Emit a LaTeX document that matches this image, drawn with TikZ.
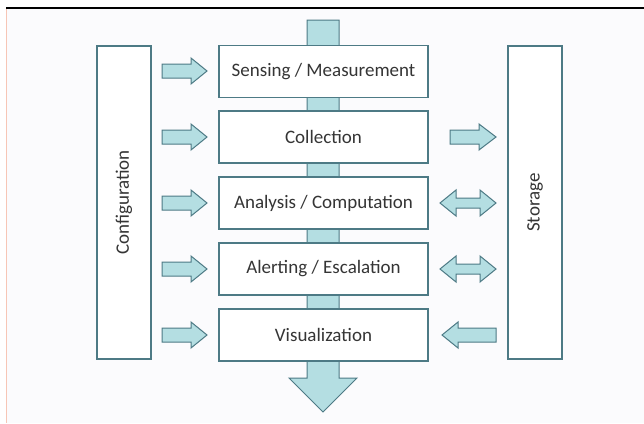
\documentclass[tikz,border=0pt]{standalone}
\usepackage{fontspec}
\setmainfont{Carlito}
\definecolor{tealfill}{HTML}{B4DEE2}
\definecolor{tealline}{HTML}{4D7A85}
\definecolor{txt}{HTML}{353535}
\definecolor{bgc}{HTML}{FBFBFD}
\definecolor{pinkline}{HTML}{F7C6B6}
\begin{document}
\begin{tikzpicture}[x=1pt,y=-1pt,
  stagebox/.style={draw=tealline,line width=1.1pt,fill=white,minimum width=209pt,minimum height=52pt,inner sep=0pt,text=txt,font=\fontsize{19}{22}\selectfont},
  sidebox/.style={draw=tealline,line width=1.1pt,fill=white,minimum width=54pt,minimum height=313pt,inner sep=0pt},
  sidelabel/.style={rotate=90,text=txt,font=\fontsize{19}{22}\selectfont},
  fatarrow/.style={draw=tealline,line width=1pt,fill=tealfill,line join=miter}]
\useasboundingbox (0,0) rectangle (644,423);
\fill[white] (0,0) rectangle (644,423);
\fill[bgc] (6,8) rectangle (644,423);
\draw[pinkline,line width=1pt] (6,8) -- (6,423);
\draw[black,line width=1.3pt] (6,8) -- (644,8);
% central bar with down arrow
\draw[fatarrow] (307,20) -- (339,20) -- (339,378) -- (357,378) -- (323,412) -- (289,378) -- (307,378) -- cycle;
% side boxes
\node[sidebox] (config) at (124,202.5) {};
\node[sidelabel] (configlabel) at (config.center) {Configuration};
\node[sidebox] (storage) at (535,202.5) {};
\node[sidelabel] (storagelabel) at (storage.center) {Storage};
% stages
\node[stagebox] (sense) at (323.5,71.5) {Sensing / Measurement};
\node[stagebox] (collect) at (323.5,137) {Collection};
\node[stagebox] (analysis) at (323.5,203) {Analysis / Computation};
\node[stagebox] (alert) at (323.5,269) {Alerting / Escalation};
\node[stagebox] (visual) at (323.5,335) {Visualization};
% left arrows
\foreach \yc in {71,137,203,269,335}{
  \draw[fatarrow] (162,\yc-7) -- (191,\yc-7) -- (191,\yc-13) -- (207,\yc) -- (191,\yc+13) -- (191,\yc+7) -- (162,\yc+7) -- cycle;
}
% right: collection -> storage
\draw[fatarrow] (450,130) -- (479,130) -- (479,124) -- (496,137) -- (479,150) -- (479,144) -- (450,144) -- cycle;
% double arrows
\foreach \yc in {203,269}{
  \draw[fatarrow] (440,\yc) -- (456,\yc-13) -- (456,\yc-5) -- (480,\yc-5) -- (480,\yc-13) -- (496,\yc) -- (480,\yc+13) -- (480,\yc+5) -- (456,\yc+5) -- (456,\yc+13) -- cycle;
}
% storage -> visualization
\draw[fatarrow] (496,328) -- (458,328) -- (458,322) -- (442,335) -- (458,348) -- (458,342) -- (496,342) -- cycle;
\end{tikzpicture}
\end{document}
